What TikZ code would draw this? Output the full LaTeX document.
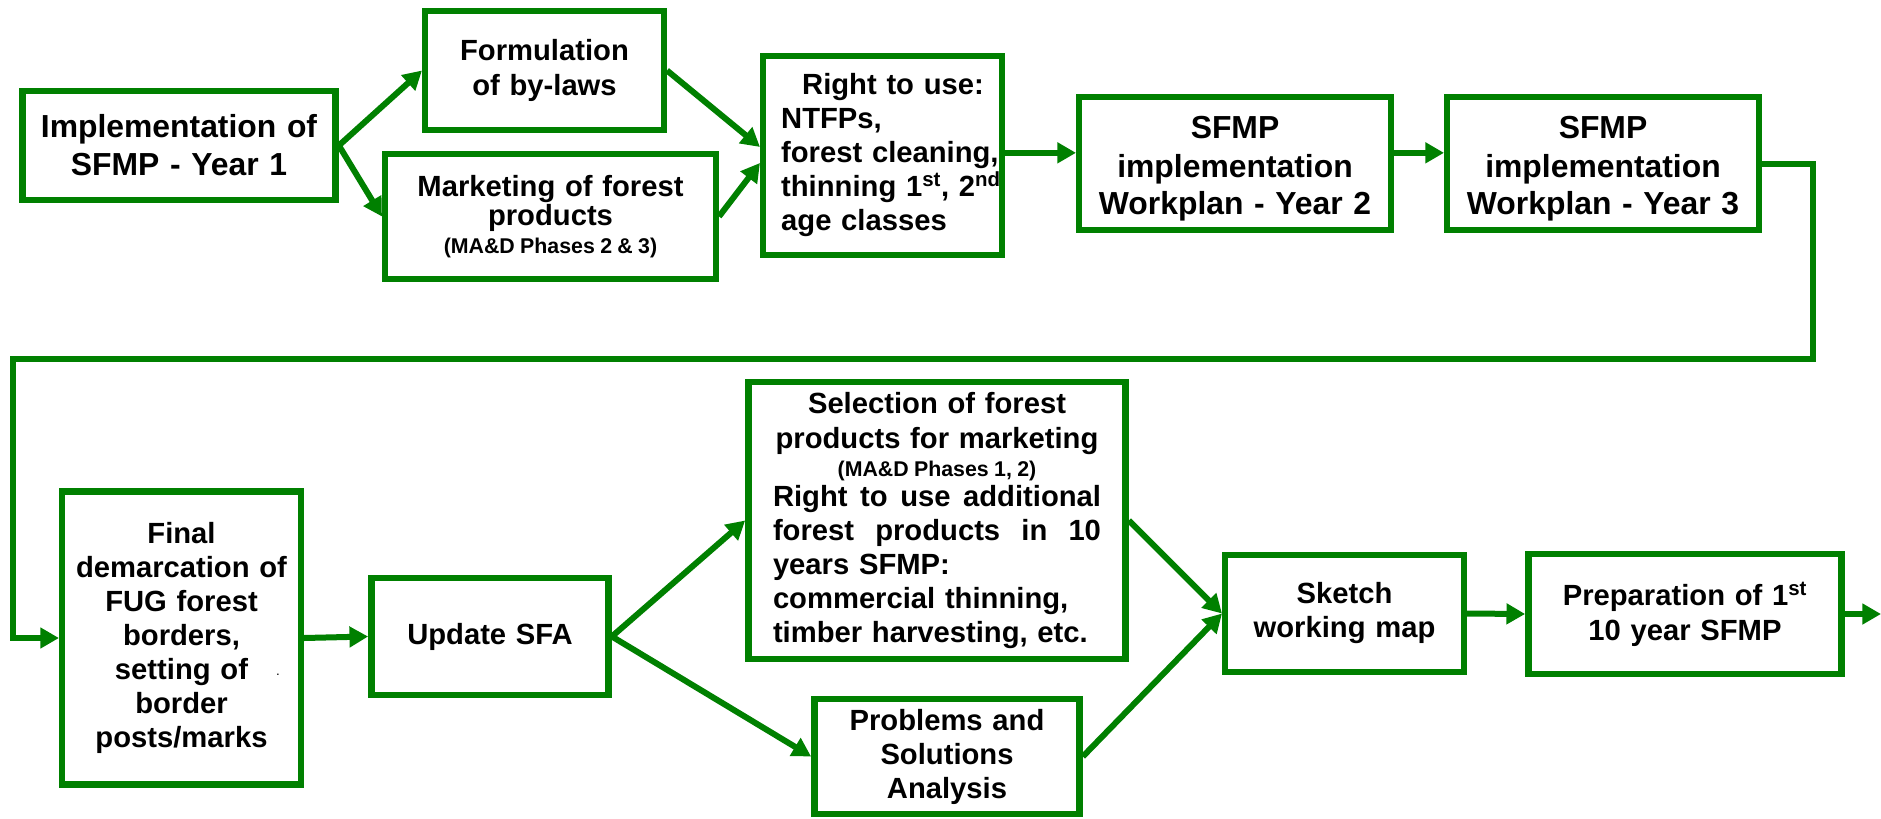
\documentclass[tikz,border=0pt]{standalone}
\usepackage{fontspec}
\setmainfont{Liberation Sans}
\usetikzlibrary{arrows.meta}

\definecolor{fgreen}{RGB}{0,128,0}
\tikzset{
  stage/.style={draw=fgreen, line width=4.8pt, fill=white, inner sep=0pt, align=center,
    font=\bfseries\fontsize{21.9}{25.5}\selectfont},
  bigtext/.style={font=\bfseries\fontsize{23.9}{28.5}\selectfont},
  flow/.style={draw=fgreen, line width=4.5pt, -{Triangle[length=14pt,width=15pt]}},
}
\newcommand{\phasenote}[1]{{\fontsize{16}{19}\selectfont\spaceskip=0.25em\xspaceskip=0.25em #1}}
\newcommand{\fullline}[1]{\leavevmode\hbox to 246pt{#1}}

\begin{document}
\begin{tikzpicture}[x=0.75pt,y=0.75pt,yscale=-1,xscale=1]
\useasboundingbox (0,0) rectangle (1881,818);
\fill[white] (0,0) rectangle (1881,818);

%Upper row
\node[stage, bigtext, minimum width=235pt, minimum height=81.5pt, text width=225pt] (impl) at (179,145.5) {Implementation of\\SFMP - Year 1};
\node[stage, minimum width=179pt, minimum height=89pt, text width=170pt] (form) at (544.5,70.5) {Formulation\\[1pt]of by-laws};
\node[stage, minimum width=248pt, minimum height=93.5pt, text width=240pt] (mkt) at (550.5,216.5) {Marketing of forest\\[-3.4pt]products\\[-5pt]\phasenote{(MA\&D Phases 2 \& 3)}};
\node[stage, align=left, minimum width=179pt, minimum height=149pt, text width=152pt] (rtu) at (882.5,155.5) {\hspace*{15.75pt}Right to use:\\NTFPs,\\\mbox{forest cleaning,}\\\mbox{thinning 1\textsuperscript{st}, 2\textsuperscript{nd}}\\age classes};
\node[stage, bigtext, minimum width=233.7pt, minimum height=99.5pt, text width=225pt] (y2) at (1235,163.5) {\mbox{}\\[-4pt]SFMP\\[0.5pt]implementation\\[-0.5pt]Workplan - Year 2};
\node[stage, bigtext, minimum width=233.7pt, minimum height=99.5pt, text width=225pt] (y3) at (1603,163.5) {\mbox{}\\[-4pt]SFMP\\[0.5pt]implementation\\[-0.5pt]Workplan - Year 3};

%Lower row
\node[stage, minimum width=179pt, minimum height=220pt, text width=170pt] (final) at (181.5,638) {Final\\demarcation of\\FUG forest\\borders,\\setting of\\border\\posts/marks};
\node[font=\fontsize{10}{12}\selectfont, inner sep=0pt, anchor=base] (dot) at (278,675) {.};
\node[stage, minimum width=178pt, minimum height=87.5pt, text width=170pt] (upd) at (490,636.5) {Update SFA};
\node[stage, minimum width=283pt, minimum height=207.5pt, text width=246pt] (sel) at (937,520.5) {Selection of forest\\[0.75pt]products for marketing\\[-4.5pt]\phasenote{(MA\&D Phases 1, 2)}\\[-3pt]\fullline{Right\hfill to\hfill use\hfill additional}\\\fullline{forest\hfill products\hfill in\hfill 10}\\\fullline{years SFMP:\hfil}\\\fullline{commercial thinning,\hfil}\\\fullline{timber harvesting, etc.\hfil}};
\node[stage, minimum width=199pt, minimum height=86pt, text width=190pt] (prob) at (947,756.5) {Problems and\\Solutions\\Analysis};
\node[stage, minimum width=179pt, minimum height=87.5pt, text width=170pt] (sketch) at (1344.5,613.5) {Sketch\\working map};
\node[stage, minimum width=235pt, minimum height=89.7pt, text width=225pt] (prep) at (1685,614) {Preparation of 1\textsuperscript{st}\\[0.75pt]10 year SFMP};

%Route from year 3 down to the lower row
\coordinate (bendR) at (1813,359);
\coordinate (bendL) at (13,359);
\coordinate (exitR) at (1881,614);

%Connectors
\draw[flow] (impl.east) -- (form.west);
\draw[flow] (impl.east) -- (mkt.west);
\draw[flow] (form.east) -- ([yshift=-6.4pt]rtu.west);
\draw[flow] (mkt.east) -- ([yshift=5.6pt]rtu.west);
\draw[flow] ([yshift=-2pt]rtu.east) -- ([yshift=-8pt]y2.west);
\draw[flow] ([yshift=-8pt]y2.east) -- ([yshift=-8pt]y3.west);
\draw[flow] (y3.east) -| (bendR) -- (bendL) |- (final.west);
\draw[flow] (final.east) -- (upd.west);
\draw[flow] (upd.east) -- (sel.west);
\draw[flow] (upd.east) -- (prob.west);
\draw[flow] (sel.east) -- (sketch.west);
\draw[flow] (prob.east) -- (sketch.west);
\draw[flow] (sketch.east) -- (prep.west);
\draw[flow] (prep.east) -- (exitR);
\end{tikzpicture}
\end{document}
